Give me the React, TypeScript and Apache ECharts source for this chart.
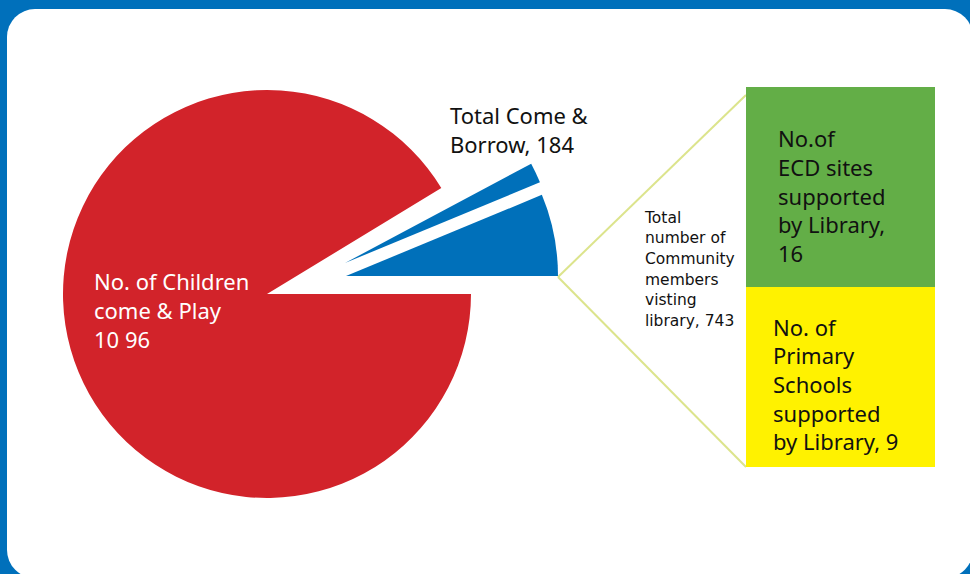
import React, { useEffect, useRef } from 'react';
import * as echarts from 'echarts';

// ---- data ----
const pieCategories = [
  'No. of Children come & Play',
  'Total Come & Borrow',
  'Total number of Community members visting library',
];
// slice sizes as drawn in the picture (angles ≈ 332°, 5.6°, 22.5°)
const pieSliceSizes = [1096, 18.4, 74.3];
const pieLabels = [
  'No. of Children\ncome & Play\n10 96',
  'Total Come &\nBorrow, 184',
  'Total\nnumber of\nCommunity\nmembers\nvisting\nlibrary, 743',
];
const barCategories = ['No.of ECD sites supported by Library', 'No. of Primary Schools supported by Library'];
// segment heights as drawn (green ≈ 200px, yellow ≈ 180px)
const barSegmentSizes = [10, 9];
const barLabels = ['No.of\nECD sites\nsupported\nby Library,\n16', 'No. of\nPrimary\nSchools\nsupported\nby Library, 9'];

// ---- styles / layout ----
const pieColors = ['#D2232A', '#0070BA', '#0070BA'];
const barColors = ['#63AE47', '#FFF200'];
const FONT = '"Noto Sans", "Open Sans", sans-serif';
const SMALL_FONT = '"DejaVu Sans", sans-serif';

const pieLayout = [
  { center: [267, 294], radius: 204, start: 0, end: 3.5 },
  { center: [345, 263], radius: 211, start: 0, end: 'auto' },
  { center: [346, 276], radius: 212, start: 0, end: 'auto' },
];
const GRID = { left: 746, top: 87, width: 189, height: 380 };

export default function App() {
  const ref = useRef<HTMLDivElement>(null);
  useEffect(() => {
    const chart = echarts.init(ref.current!, null, { renderer: 'svg' });
    const total = barSegmentSizes.reduce((a, b) => a + b, 0);

    const pieSeries = pieLayout.map((lay, vi) => ({
      type: 'pie',
      center: lay.center,
      radius: lay.radius,
      startAngle: lay.start,
      endAngle: lay.end,
      clockwise: true,
      silent: true,
      z: 3,
      label: { show: false },
      labelLine: { show: false },
      emphasis: { disabled: true },
      data: pieSliceSizes.map((v, i) => ({
        value: v,
        name: pieCategories[i],
        itemStyle: { color: i === vi ? pieColors[i] : 'rgba(0,0,0,0)', borderWidth: 0 },
      })),
    }));

    // bar stacks from the bottom: yellow first, then green
    const barSeries = [1, 0].map((idx) => ({
      type: 'bar',
      stack: 'other',
      name: barCategories[idx],
      data: [barSegmentSizes[idx]],
      barWidth: '100%',
      silent: true,
      itemStyle: { color: barColors[idx] },
      label: {
        show: true,
        formatter: barLabels[idx],
        position: idx === 0 ? [32, 108.5] : [27, 97],
        align: 'left',
        verticalAlign: 'middle',
        color: '#111',
        fontSize: 22,
        fontFamily: FONT,
        lineHeight: 28.6,
      },
    }));

    const big = pieLayout[2];
    const start = [big.center[0] + big.radius, big.center[1] + 1];
    const lineStyle = { stroke: '#DCE48C', lineWidth: 2 };

    const option = {
      animation: false,
      backgroundColor: '#0070BB',
      grid: { left: GRID.left, top: GRID.top, width: GRID.width, height: GRID.height },
      xAxis: { type: 'category', data: ['Other'], show: false },
      yAxis: { type: 'value', min: 0, max: total, show: false },
      series: [...pieSeries, ...barSeries],
      graphic: [
        {
          type: 'rect', silent: true, z: -10,
          shape: { x: 7, y: 9, width: 966, height: 569, r: 28 },
          style: { fill: '#ffffff' },
        },
        {
          type: 'line', silent: true, z: 1,
          shape: { x1: start[0], y1: start[1], x2: GRID.left, y2: GRID.top + 8 },
          style: lineStyle,
        },
        {
          type: 'line', silent: true, z: 1,
          shape: { x1: start[0], y1: start[1], x2: GRID.left, y2: GRID.top + GRID.height },
          style: lineStyle,
        },
        {
          type: 'text', z: 20, silent: true, x: 94, y: 266.5,
          style: { text: pieLabels[0], fill: '#ffffff', fontSize: 22, fontFamily: FONT, lineHeight: 29, verticalAlign: 'top', align: 'left' },
        },
        {
          type: 'text', z: 20, silent: true, x: 450, y: 100.5,
          style: { text: pieLabels[1], fill: '#111111', fontSize: 22, fontFamily: FONT, lineHeight: 29, verticalAlign: 'top', align: 'left' },
        },
        {
          type: 'text', z: 20, silent: true, x: 645, y: 207.3,
          style: { text: pieLabels[2], fill: '#111111', fontSize: 15.5, fontFamily: SMALL_FONT, lineHeight: 20.7, verticalAlign: 'top', align: 'left' },
        },
      ],
    };
    chart.setOption(option as any);
    return () => chart.dispose();
  }, []);
  return <div ref={ref} style={{ position: 'fixed', left: 0, top: 0, width: 970, height: 574 }} />;
}
